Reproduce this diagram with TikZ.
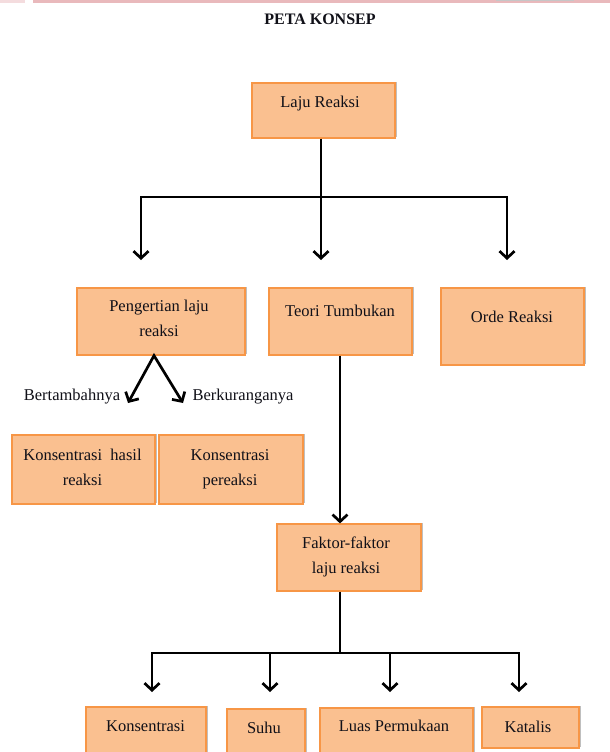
\documentclass[tikz,border=0pt]{standalone}
\usepackage{fontspec}
\setmainfont{Liberation Serif}
\usetikzlibrary{arrows.meta,shadows}
\definecolor{boxfill}{HTML}{FAC090}
\definecolor{boxline}{HTML}{F79646}
\definecolor{barpink}{HTML}{E9B9BC}
\definecolor{txtcol}{HTML}{101018}
\tikzset{
  box/.style={rectangle, draw=boxline, line width=1.2pt, fill=boxfill, inner sep=0pt,
    drop shadow={shadow xshift=2pt, shadow yshift=1.5pt, opacity=0.25, fill=black}},
  txt/.style={anchor=base, inner sep=0pt, text=txtcol, font=\fontsize{16.5}{25}\selectfont},
  conn/.style={draw=black, line width=2.7pt},
  arr/.style={conn, -{Straight Barb[length=7pt,width=15pt]}},
  arrboth/.style={conn, {Straight Barb[length=7pt,width=15pt]}-{Straight Barb[length=7pt,width=15pt]}}
}
\begin{document}
\begin{tikzpicture}[x=1pt,y=-1pt]
\path[use as bounding box] (0,0) rectangle (610,752);
\clip (0,0) rectangle (610,752);
\fill[white] (0,0) rectangle (610,752);
% top bar
\fill[barpink!50] (0,0) rectangle (25,3);
\fill[barpink] (33,0) rectangle (610,3.5);
\fill[gray!45] (496,0) rectangle (574,1.5);
% title
\node[txt, font=\fontsize{16}{18}\selectfont\bfseries] (title) at (320,25) {PETA KONSEP};
% boxes
\node[box, minimum width=143pt, minimum height=55pt] (laju) at (323.5,110.5) {};
\node[box, minimum width=168pt, minimum height=67pt] (peng) at (161,321.5) {};
\node[box, minimum width=143pt, minimum height=67pt] (teori) at (340.5,321.5) {};
\node[box, minimum width=143pt, minimum height=77pt] (orde) at (512.5,326.5) {};
\node[box, minimum width=143pt, minimum height=69pt] (hasil) at (83.5,469.5) {};
\node[box, minimum width=144pt, minimum height=69pt] (pereaksi) at (231,469.5) {};
\node[box, minimum width=144pt, minimum height=67pt] (faktor) at (349,557.5) {};
\node[box, minimum width=120pt, minimum height=68pt] (kons) at (146,741) {};
\node[box, minimum width=78pt, minimum height=68pt] (suhu) at (266,743) {};
\node[box, minimum width=153pt, minimum height=68pt] (luas) at (396.5,742) {};
\node[box, minimum width=97pt, minimum height=41pt] (katalis) at (530.5,727.5) {};
% texts
\node[txt] (lajut) at (320,107) {Laju Reaksi};
\node[txt] (pengt) at (159,311.7) {\begin{tabular}[t]{@{}c@{}}Pengertian laju\\reaksi\end{tabular}};
\node[txt] (teorit) at (340,316) {Teori Tumbukan};
\node[txt] (ordet) at (512,322.5) {Orde Reaksi};
\node[txt] (bertt) at (72,400.5) {Bertambahnya};
\node[txt] (berkt) at (243,400.5) {Berkuranganya};
\node[txt] (hasilt) at (82.5,460) {\begin{tabular}[t]{@{}c@{}}Konsentrasi\ \ hasil\\reaksi\end{tabular}};
\node[txt] (pereaksit) at (230,460) {\begin{tabular}[t]{@{}c@{}}Konsentrasi\\pereaksi\end{tabular}};
\node[txt] (faktort) at (346,548) {\begin{tabular}[t]{@{}c@{}}Faktor-faktor\\laju reaksi\end{tabular}};
\node[txt] (konst) at (145.5,731) {Konsentrasi};
\node[txt] (suhut) at (264,733) {Suhu};
\node[txt] (luast) at (394,731) {Luas Permukaan};
\node[txt] (katalist) at (528,732) {Katalis};
% connector coordinates
\coordinate (j1) at (321,197);
\coordinate (t1) at (141,260);
\coordinate (t2) at (321,260);
\coordinate (t3) at (507,260);
\coordinate (apex) at (154,357);
\coordinate (tl) at (128,403);
\coordinate (tr) at (183,403);
\coordinate (j2) at (340,653);
\coordinate (b1) at (152,692);
\coordinate (b2) at (270,692);
\coordinate (b3) at (390,692);
\coordinate (b4) at (519,692);
% connectors
\draw[conn] (laju.south -| j1) -- (j1);
\draw[arr] (j1) -| (t1);
\draw[arr] (j1) -| (t3);
\draw[arr] (j1) -- (t2);
\draw[arrboth, line join=miter] (tl) -- (peng.south -| apex) -- (tr);
\draw[arr] (teori.south -| 340,0) -- (faktor.north -| 340,0);
\draw[conn] (faktor.south -| j2) -- (j2);
\draw[arr] (j2) -| (b1);
\draw[arr] (j2) -| (b2);
\draw[arr] (j2) -| (b3);
\draw[arr] (j2) -| (b4);
\end{tikzpicture}
\end{document}
